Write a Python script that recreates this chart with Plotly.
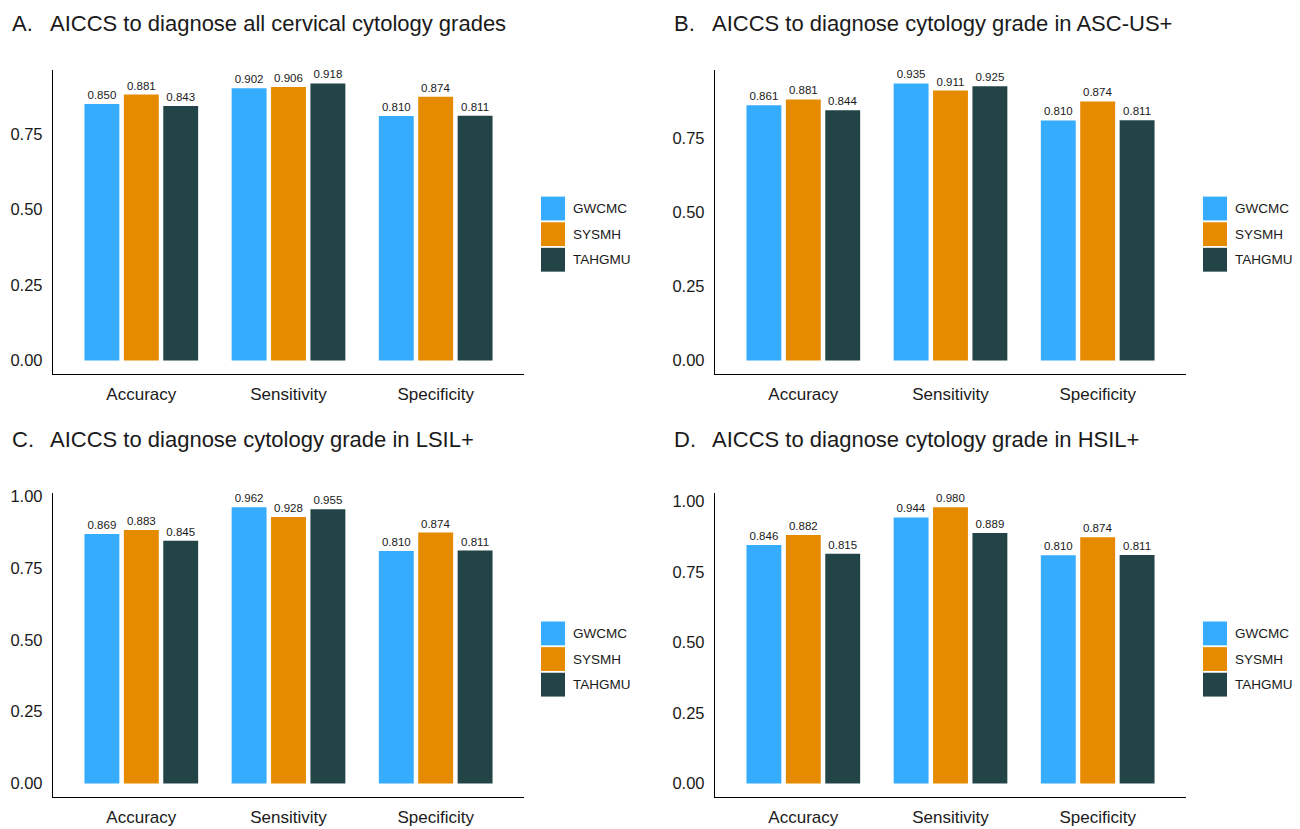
import plotly.graph_objects as go

# Metrics and sites
metrics = ["Accuracy", "Sensitivity", "Specificity"]
sites = ["GWCMC", "SYSMH", "TAHGMU"]
site_colors = ["#36ACFE", "#E68B00", "#234446"]

# Panel A: all cervical cytology grades
a_gwcmc = [0.850, 0.902, 0.810]
a_sysmh = [0.881, 0.906, 0.874]
a_tahgmu = [0.843, 0.918, 0.811]

# Panel B: ASC-US+
b_gwcmc = [0.861, 0.935, 0.810]
b_sysmh = [0.881, 0.911, 0.874]
b_tahgmu = [0.844, 0.925, 0.811]

# Panel C: LSIL+
c_gwcmc = [0.869, 0.962, 0.810]
c_sysmh = [0.883, 0.928, 0.874]
c_tahgmu = [0.845, 0.955, 0.811]

# Panel D: HSIL+
d_gwcmc = [0.846, 0.944, 0.810]
d_sysmh = [0.882, 0.980, 0.874]
d_tahgmu = [0.815, 0.889, 0.811]

panel_titles = [
    ("A.", "AICCS to diagnose all cervical cytology grades"),
    ("B.", "AICCS to diagnose cytology grade in ASC-US+"),
    ("C.", "AICCS to diagnose cytology grade in LSIL+"),
    ("D.", "AICCS to diagnose cytology grade in HSIL+"),
]
panels = [
    [a_gwcmc, a_sysmh, a_tahgmu],
    [b_gwcmc, b_sysmh, b_tahgmu],
    [c_gwcmc, c_sysmh, c_tahgmu],
    [d_gwcmc, d_sysmh, d_tahgmu],
]

W, H = 1300, 829
FONT = "Liberation Sans, Arial, Helvetica, sans-serif"
TXT = "#1a1a1a"


def px_x(x):
    return x / W


def px_y(y):
    return 1 - y / H


# plot-area pixel boxes (left, right, top, bottom) for each panel
boxes = [
    (53, 524, 64, 371),
    (715, 1186, 64, 371),
    (53, 524, 491, 797),
    (715, 1186, 491, 797),
]
# legend top-left corner per panel
legend_pos = [(541, 192), (1203, 192), (541, 620), (1203, 620)]
# title vertical centre / left edge per panel
title_y = [18, 18, 437, 437]
title_x = [10, 672, 10, 672]

fig = go.Figure()
layout_axes = {}
shapes = []
annotations = []

for i, (series, box) in enumerate(zip(panels, boxes)):
    n = "" if i == 0 else str(i + 1)
    xa, ya = "x" + n, "y" + n
    for name, vals, col in zip(sites, series, site_colors):
        fig.add_trace(go.Bar(
            x=metrics, y=vals, name=name, marker_color=col,
            marker_line_width=0,
            text=[f"{v:.3f}" for v in vals], textposition="outside",
            textfont=dict(size=11.5, color=TXT, family=FONT),
            constraintext="none", cliponaxis=False,
            xaxis=xa, yaxis=ya, showlegend=False, offsetgroup=name,
        ))
    vmax = max(max(s) for s in series)
    l, r, t, b = box
    layout_axes["xaxis" + n] = dict(
        domain=[px_x(l), px_x(r)], anchor=ya, range=[-0.6, 2.6],
        showline=True, linecolor="black", linewidth=1.3, showgrid=False,
        ticks="", ticklabelstandoff=4, zeroline=False,
        tickfont=dict(size=17, color=TXT, family=FONT), fixedrange=True,
    )
    layout_axes["yaxis" + n] = dict(
        domain=[px_y(b), px_y(t)], anchor=xa,
        range=[-0.05 * vmax, 1.05 * vmax],
        tickvals=[0, 0.25, 0.5, 0.75, 1.0], tickformat=".2f",
        showline=True, linecolor="black", linewidth=1.3, showgrid=False,
        ticks="", ticklabelstandoff=6, zeroline=False,
        tickfont=dict(size=16.5, color=TXT, family=FONT), fixedrange=True,
    )

    # panel title
    letter, title = panel_titles[i]
    annotations.append(dict(
        x=px_x(title_x[i]), y=px_y(title_y[i]), xref="paper", yref="paper",
        xanchor="left", yanchor="middle", showarrow=False, text=letter,
        font=dict(size=22, color=TXT, family=FONT)))
    annotations.append(dict(
        x=px_x(title_x[i] + 38), y=px_y(title_y[i]), xref="paper", yref="paper",
        xanchor="left", yanchor="middle", showarrow=False, text=title,
        font=dict(size=22, color=TXT, family=FONT)))

    # legend keys
    lx, ly = legend_pos[i]
    for k, (name, col) in enumerate(zip(sites, site_colors)):
        y0 = ly + k * 25.8
        shapes.append(dict(
            type="rect", xref="paper", yref="paper",
            x0=px_x(lx), x1=px_x(lx + 24), y0=px_y(y0 + 24), y1=px_y(y0),
            fillcolor=col, line=dict(width=0)))
        annotations.append(dict(
            x=px_x(lx + 30), y=px_y(y0 + 12), xref="paper", yref="paper",
            xanchor="left", yanchor="middle", showarrow=False, text=name,
            font=dict(size=13.5, color=TXT, family=FONT)))

fig.update_layout(
    width=W, height=H,
    margin=dict(l=0, r=0, t=0, b=0),
    paper_bgcolor="white", plot_bgcolor="white",
    barmode="group", bargap=0.197, bargroupgap=0.114,
    shapes=shapes, annotations=annotations,
    font=dict(family=FONT, color=TXT),
    **layout_axes,
)

fig.write_html("out.html", config={"displayModeBar": False})
